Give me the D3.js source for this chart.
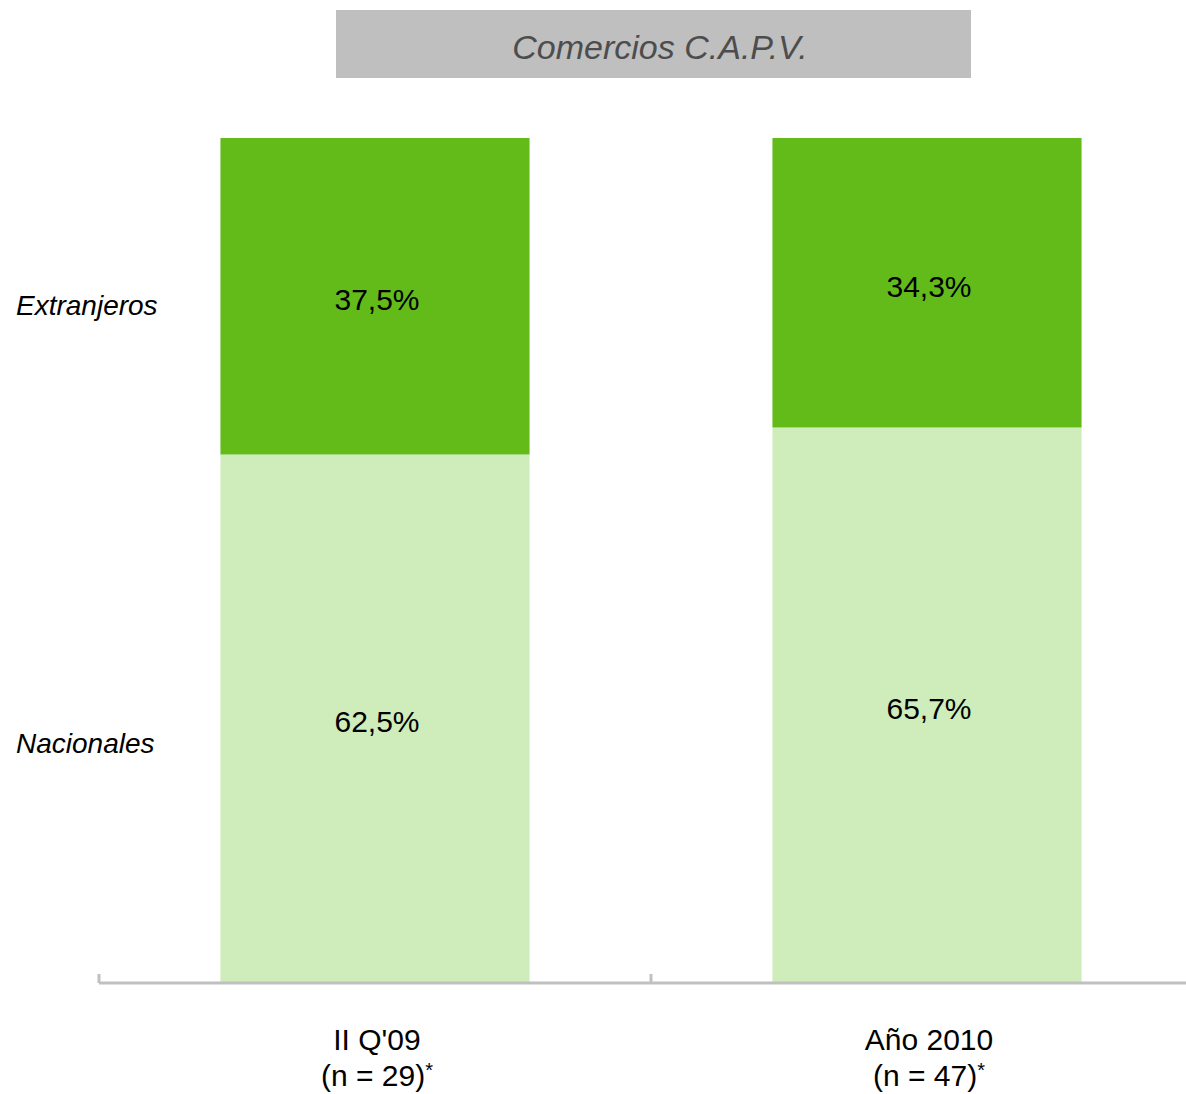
<!DOCTYPE html>
<html><head><meta charset="utf-8">
<script src="https://cdn.jsdelivr.net/npm/d3@7"></script>
<style>body{margin:0;background:#fff}svg{display:block}</style>
</head><body>
<svg id="c" width="1186" height="1094"></svg>
<script>
const categories = ["II Q'09", "Año 2010"];
const sampleLabels = ["(n = 29)", "(n = 47)"];
const nacionales = [62.5, 65.7];
const extranjeros = [37.5, 34.3];
const seriesNames = ["Nacionales", "Extranjeros"];
const title = "Comercios C.A.P.V.";

const svg = d3.select("#c");
const font = "'Liberation Sans', Arial, sans-serif";

const x = d3.scaleBand().domain(categories).range([99, 1203]).paddingInner(0).paddingOuter(0);
const y = d3.scaleLinear().domain([0, 100]).range([982, 138]);
const bw = x.bandwidth() * 0.56;
const off = (x.bandwidth() - bw) / 2;

// title box
svg.append("rect").attr("x", 336).attr("y", 10).attr("width", 635).attr("height", 68).attr("fill", "#bfbfbf");
svg.append("text").attr("x", 660).attr("y", 59).attr("text-anchor", "middle")
  .attr("font-family", font).attr("font-style", "italic").attr("font-size", 34)
  .attr("fill", "#4d4d4d").text(title);

const data = categories.map((c, i) => ({c, n: nacionales[i], e: extranjeros[i]}));

const g = svg.append("g");
g.selectAll("rect.nac").data(data).join("rect").attr("class", "nac")
  .attr("x", d => x(d.c) + off).attr("width", bw)
  .attr("y", d => y(d.n)).attr("height", d => y(0) - y(d.n))
  .attr("fill", "#cfecbb");
g.selectAll("rect.ext").data(data).join("rect").attr("class", "ext")
  .attr("x", d => x(d.c) + off).attr("width", bw)
  .attr("y", d => y(d.n + d.e)).attr("height", d => y(d.n) - y(d.n + d.e))
  .attr("fill", "#63bb19");

const fmt = v => v.toFixed(1).replace(".", ",") + "%";
g.selectAll("text.vn").data(data).join("text")
  .attr("x", d => x(d.c) + x.bandwidth() / 2 + 2)
  .attr("y", d => (y(0) + y(d.n)) / 2 + 6)
  .attr("dominant-baseline", "middle").attr("text-anchor", "middle")
  .attr("font-family", font).attr("font-size", 30).attr("fill", "#000")
  .text(d => fmt(d.n));
g.selectAll("text.ve").data(data).join("text")
  .attr("x", d => x(d.c) + x.bandwidth() / 2 + 2)
  .attr("y", d => (y(d.n) + y(d.n + d.e)) / 2 + 6)
  .attr("dominant-baseline", "middle").attr("text-anchor", "middle")
  .attr("font-family", font).attr("font-size", 30).attr("fill", "#000")
  .text(d => fmt(d.e));

// axis
const axis = svg.append("g").attr("transform", "translate(0,983)")
  .call(d3.axisBottom(x).tickSize(0).tickFormat(""));
axis.select(".domain").attr("stroke", "#c0c0c0").attr("stroke-width", 3).attr("d", "M99,0H1186");
const tickPos = [99, 651];
axis.selectAll("line.tk").data(tickPos).join("line").attr("class", "tk")
  .attr("x1", d => d).attr("x2", d => d).attr("y1", -9).attr("y2", 0)
  .attr("stroke", "#c0c0c0").attr("stroke-width", 3);

// category labels
const cl = svg.selectAll("g.cl").data(categories).join("g").attr("class", "cl");
cl.append("text").attr("x", d => x(d) + x.bandwidth() / 2 + 2).attr("y", 1050)
  .attr("text-anchor", "middle").attr("font-family", font).attr("font-size", 30).attr("fill", "#000")
  .text(d => d);
cl.append("text").attr("x", (d, i) => x(d) + x.bandwidth() / 2 + 2).attr("y", 1086)
  .attr("text-anchor", "middle").attr("font-family", font).attr("font-size", 30).attr("fill", "#000")
  .each(function(d, i) {
    const t = d3.select(this);
    t.append("tspan").text(sampleLabels[i]);
    t.append("tspan").attr("font-size", 20).attr("dy", -9).text("*");
  });

// series labels on the left
const legendY = [y(28.2), y(80.2)];
svg.selectAll("text.sl").data(seriesNames).join("text")
  .attr("x", 16).attr("y", (d, i) => legendY[i] + 2)
  .attr("dominant-baseline", "middle")
  .attr("font-family", font).attr("font-style", "italic").attr("font-size", 28).attr("fill", "#000")
  .text(d => d);
</script>
</body></html>
